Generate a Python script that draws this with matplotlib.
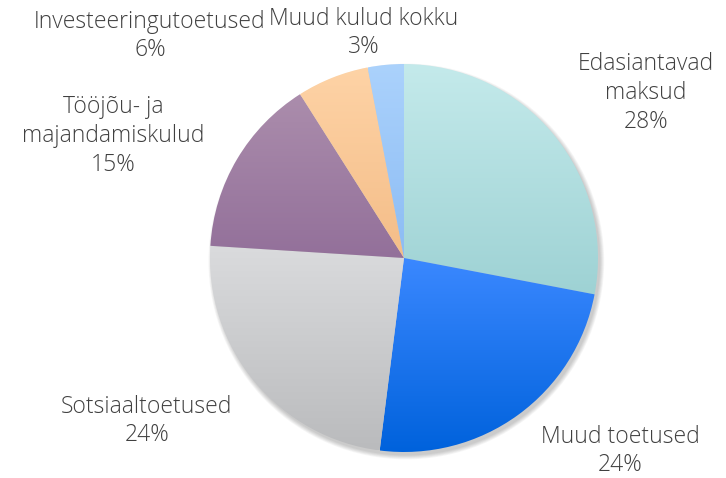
import matplotlib.pyplot as plt
import numpy as np
from matplotlib.colors import LinearSegmentedColormap
from matplotlib.patches import Circle

plt.rcParams['font.family'] = ['Open Sans', 'DejaVu Sans']

labels = ["Edasiantavad\nmaksud", "Muud toetused", "Sotsiaaltoetused",
          "Tööjõu- ja\nmajandamiskulud", "Investeeringutoetused", "Muud kulud kokku"]
shares = [28, 24, 24, 15, 6, 3]
top_colors = ["#c4eaeb", "#3b88ff", "#dadbdd", "#ab8dac", "#fed3a6", "#abd2fc"]
bottom_colors = ["#9ed2d4", "#0062dc", "#babbbd", "#93709a", "#f4bd88", "#8cbcf4"]

# label centres in pixels (x, y from top)
label_px = [(646, 93), (620, 451), (147, 421), (113, 136), (150, 36), (364, 33)]

W, H = 726, 478
cx, cy, R = 404, 258, 194

fig = plt.figure(figsize=(W / 100, H / 100), dpi=100)
ax = fig.add_axes([0, 0, 1, 1])

# soft shadow
for i in range(6):
    ax.add_patch(Circle((0.012, -0.018), 1.0 + 0.004 * i, color='#000000',
                        alpha=0.035, lw=0, zorder=1))

wedges, _ = ax.pie(shares, startangle=90, counterclock=False, radius=1,
                   wedgeprops=dict(linewidth=0))

grad = np.linspace(1, 0, 256).reshape(-1, 1)
for w, c0, c1 in zip(wedges, top_colors, bottom_colors):
    w.set_facecolor('none')
    w.set_zorder(3)
    # each slice gets its own vertical gradient over its own extent
    th = np.radians(np.linspace(w.theta1, w.theta2, 200))
    ys = np.concatenate([np.sin(th), [0]])
    xs = np.concatenate([np.cos(th), [0]])
    cmap = LinearSegmentedColormap.from_list('g', [c1, c0])
    im = ax.imshow(grad, cmap=cmap, extent=(xs.min(), xs.max(), ys.min(), ys.max()),
                   aspect='auto', origin='upper', zorder=2, interpolation='bilinear')
    im.set_clip_path(w)

ax.set_xlim(-cx / R, (W - cx) / R)
ax.set_ylim(-(H - cy) / R, cy / R)
ax.set_aspect('equal')
ax.axis('off')

for lab, s, (px, py) in zip(labels, shares, label_px):
    ax.text((px - cx) / R, (cy - py) / R, f"{lab}\n{s}%", ha='center', va='center',
            fontsize=16.5, fontweight='light', color='#404040', linespacing=1.27,
            zorder=5)

fig.savefig('out.png', dpi=100)
